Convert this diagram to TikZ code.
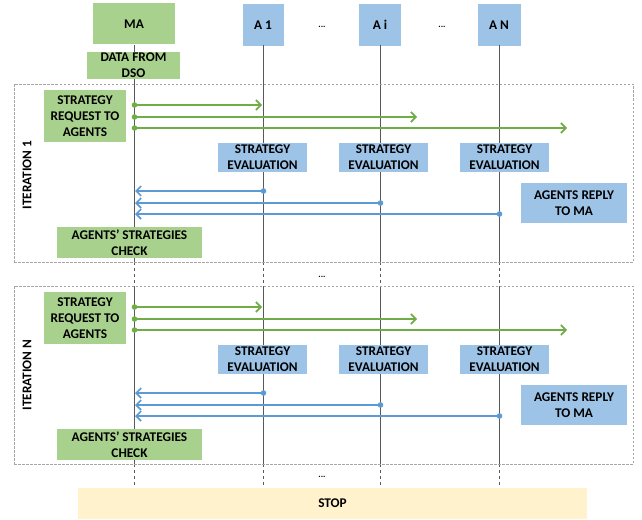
\documentclass[tikz,border=0pt]{standalone}
\usepackage{fontspec}
\setmainfont{Carlito}[BoldFont={Carlito Bold}]
\usetikzlibrary{arrows.meta}
\definecolor{gbox}{HTML}{A9D18E}
\definecolor{bbox}{HTML}{9DC3E6}
\definecolor{garr}{HTML}{70AD47}
\definecolor{barr}{HTML}{5B9BD5}
\definecolor{sbox}{HTML}{FFF2CC}
\definecolor{lline}{HTML}{595959}
\definecolor{frm}{HTML}{A6A6A6}
\definecolor{txt}{HTML}{000000}
\begin{document}
\begin{tikzpicture}[x=1pt,y=-1pt,
  font=\bfseries\fontsize{13.3}{16}\selectfont,
  lbl/.style={inner sep=0pt, align=center, text=txt},
  gbx/.style={lbl, fill=gbox},
  bbx/.style={lbl, fill=bbox},
  sbx/.style={lbl, fill=sbox},
  wh/.style 2 args={minimum width=#1, minimum height=#2},
  life/.style={draw=lline, line width=1pt},
  lifedash/.style={life, dash pattern=on 3pt off 3pt},
  frame/.style={draw=frm, line width=1pt, dash pattern=on 2.5pt off 1.5pt},
  garrow/.style={draw=garr, line width=2pt, -{Straight Barb[length=5pt,width=10pt,line width=1.6pt]}},
  barrow/.style={draw=barr, line width=2pt, -{Straight Barb[length=5pt,width=10pt,line width=1.6pt]}},
  dots/.style={inner sep=0pt, font=\bfseries\fontsize{9}{10}\selectfont, text=txt}
]
\useasboundingbox (0,0) rectangle (642,519);

% header nodes
\node[gbx, wh={82}{41}] (ma) at (134,24) {MA};
\node[bbx, wh={41}{42}] (a1) at (263,25) {A 1};
\node[bbx, wh={42}{42}] (ai) at (380,25) {A i};
\node[bbx, wh={43}{42}] (an) at (499,25) {A N};
\node[dots] (d1) at (322,27) {...};
\node[dots] (d2) at (442,27) {...};

% lifeline coordinates
\foreach \n/\x in {ma/134.5,a1/263.5,ai/380.5,an/499.5}{
  \coordinate (\n-b) at (\x,45);
  \coordinate (\n-e1) at (\x,262);
  \coordinate (\n-s2) at (\x,286);
  \coordinate (\n-e2) at (\x,464);
  \coordinate (\n-st) at (\x,488);
}
\foreach \n in {ma,a1,ai,an}{
  \draw[life] (\n-b) -- (\n-e1);
  \draw[lifedash] (\n-e1) -- (\n-s2);
  \draw[life] (\n-s2) -- (\n-e2);
  \draw[lifedash] (\n-e2) -- (\n-st);
}

\node[gbx, wh={93}{27}] (dso) at (133.5,65.5) {DATA FROM\\DSO};

% iteration frames
\node[frame, inner sep=0pt, wh={619}{178}] (it1) at (323.5,173) {};
\node[frame, inner sep=0pt, wh={619}{178}] (itn) at (323.5,375) {};
\node[lbl, rotate=90] (it1l) at (27,175) {ITERATION 1};
\node[lbl, rotate=90] (itnl) at (27,375) {ITERATION N};

% iteration contents
\foreach \k/\o in {1/0,n/202}{
  \node[gbx, wh={82}{52}] (sr\k) at (85,116+\o) {STRATEGY\\REQUEST TO\\AGENTS};
  \node[bbx, wh={89}{29}] (ev1\k) at (262.5,157.5+\o) {STRATEGY\\EVALUATION};
  \node[bbx, wh={89}{29}] (evi\k) at (383.5,157.5+\o) {STRATEGY\\EVALUATION};
  \node[bbx, wh={89}{29}] (evn\k) at (504.5,157.5+\o) {STRATEGY\\EVALUATION};
  \node[bbx, wh={106}{40}] (rep\k) at (574,203+\o) {AGENTS REPLY\\TO MA};
  \node[gbx, wh={145}{31}] (chk\k) at (129.5,242.5+\o) {AGENTS’ STRATEGIES\\CHECK};
  % green request arrows
  \coordinate (gs1\k) at (134.5,105+\o); \coordinate (ge1\k) at (262,105+\o);
  \coordinate (gs2\k) at (134.5,117+\o); \coordinate (ge2\k) at (417,117+\o);
  \coordinate (gs3\k) at (134.5,128+\o); \coordinate (ge3\k) at (567,128+\o);
  \foreach \j in {1,2,3}{
    \draw[garrow] (gs\j\k) -- (ge\j\k);
    \fill[garr] (gs\j\k) circle (2.8pt);
  }
  % blue reply arrows
  \coordinate (bs1\k) at (263.5,191+\o); \coordinate (be1\k) at (135,191+\o);
  \coordinate (bs2\k) at (380.5,203+\o); \coordinate (be2\k) at (135,203+\o);
  \coordinate (bs3\k) at (499.5,214+\o); \coordinate (be3\k) at (135,214+\o);
  \foreach \j in {1,2,3}{
    \draw[barrow] (bs\j\k) -- (be\j\k);
    \fill[barr] (bs\j\k) circle (2.8pt);
  }
}

\node[dots] (d3) at (322,277) {...};
\node[dots] (d4) at (322,477) {...};

\node[sbx, wh={509}{31}] (stop) at (332.5,503.5) {STOP};
\end{tikzpicture}
\end{document}
